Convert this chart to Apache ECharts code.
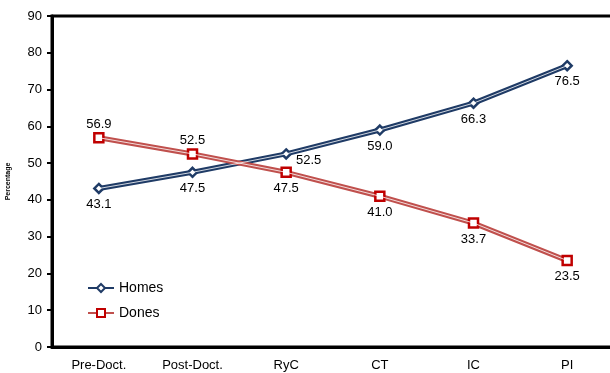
<!DOCTYPE html>
<html>
<head>
<meta charset="utf-8">
<script src="https://cdn.jsdelivr.net/npm/echarts@6/dist/echarts.min.js"></script>
<style>
html, body { margin: 0; padding: 0; background: #fff; }
#chart { width: 610px; height: 373px; }
</style>
</head>
<body>
<div id="chart"></div>
<script>
var categories = ['Pre-Doct.', 'Post-Doct.', 'RyC', 'CT', 'IC', 'PI'];
var homes = [43.1, 47.5, 52.5, 59.0, 66.3, 76.5];
var dones = [56.9, 52.5, 47.5, 41.0, 33.7, 23.5];
var homesLabelPos = ['bottom', 'bottom', 'right', 'bottom', 'bottom', 'bottom'];
var donesLabelPos = ['top', 'top', 'bottom', 'bottom', 'bottom', 'bottom'];

var blue = '#1f3b66';
var red = '#c0504d';
var redMark = '#c00000';

function withLabels(values, positions) {
    return values.map(function (v, i) {
        var pos = positions[i];
        var lbl = { position: pos, distance: pos === 'top' ? 1 : 4 };
        if (pos === 'right') lbl.offset = [0, 7];
        return { value: v, label: lbl };
    });
}

var chart = echarts.init(document.getElementById('chart'));

chart.setOption({
    animation: false,
    textStyle: { fontFamily: 'Liberation Sans, Arial, sans-serif' },
    grid: {
        left: 52, right: -4, top: 16, bottom: 26,
        outerBoundsMode: 'none',
        show: true, borderColor: '#000', borderWidth: 3
    },
    legend: {
        orient: 'vertical',
        left: 82,
        top: 276,
        itemGap: 11,
        itemWidth: 26,
        itemHeight: 10,
        textStyle: { fontSize: 14, color: '#000' },
        data: ['Homes', 'Dones']
    },
    xAxis: {
        type: 'category',
        data: categories,
        boundaryGap: true,
        axisLine: { lineStyle: { color: '#000', width: 3 } },
        axisTick: { inside: true, length: 4, lineStyle: { color: '#000', width: 2 } },
        axisLabel: { color: '#000', fontSize: 13, margin: 12 }
    },
    yAxis: {
        type: 'value',
        min: 0,
        max: 90,
        interval: 10,
        name: 'Percentage',
        nameLocation: 'middle',
        nameGap: 40,
        nameTextStyle: { fontSize: 7, fontWeight: 'bold', color: '#000' },
        axisLine: { show: true, lineStyle: { color: '#000', width: 3 } },
        axisTick: { show: true, length: 5, lineStyle: { color: '#000', width: 2 } },
        axisLabel: { color: '#000', fontSize: 13, margin: 10 },
        splitLine: { show: false }
    },
    series: [
        {
            name: 'Homes',
            type: 'line',
            data: withLabels(homes, homesLabelPos),
            symbol: 'diamond',
            symbolSize: 9,
            itemStyle: { color: '#fff', borderColor: blue, borderWidth: 2.5 },
            lineStyle: { color: blue, width: 5 },
            label: {
                show: true, color: '#000', fontSize: 13,
                formatter: function (p) { return p.value.toFixed(1); }
            },
            z: 3
        },
        {
            name: 'Homes-inner',
            type: 'line',
            data: homes,
            symbol: 'none',
            lineStyle: { color: '#ffffff', width: 1, opacity: 0.8 },
            silent: true,
            z: 4
        },
        {
            name: 'Dones',
            type: 'line',
            data: withLabels(dones, donesLabelPos),
            symbol: 'rect',
            symbolSize: 9,
            itemStyle: { color: '#fff', borderColor: redMark, borderWidth: 2.5 },
            lineStyle: { color: red, width: 5 },
            label: {
                show: true, color: '#000', fontSize: 13,
                formatter: function (p) { return p.value.toFixed(1); }
            },
            z: 3
        },
        {
            name: 'Dones-inner',
            type: 'line',
            data: dones,
            symbol: 'none',
            lineStyle: { color: '#ffffff', width: 1, opacity: 0.8 },
            silent: true,
            z: 4
        }
    ]
});
</script>
</body>
</html>
